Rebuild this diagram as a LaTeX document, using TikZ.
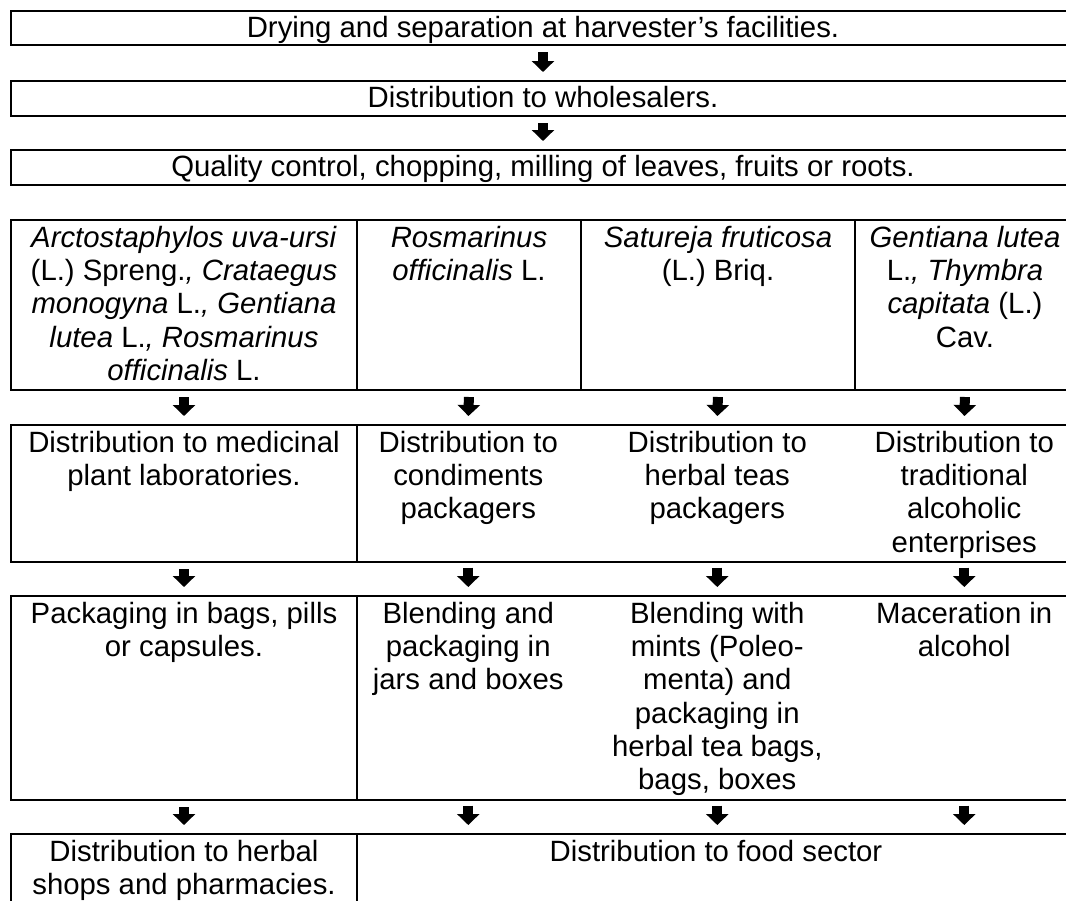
\documentclass[tikz,border=0pt]{standalone}
\usepackage{fontspec}
\setmainfont{Liberation Sans}
\usetikzlibrary{arrows.meta}
% one pixel of the drawing grid
\newcommand\pxu{0.75pt}
% centred lines whose reference point is the first baseline
\newcommand\celllines[1]{\begin{tabular}[t]{@{}c@{}}#1\end{tabular}}
\begin{document}
\begin{tikzpicture}[x=0.75pt,y=-0.75pt,
  boxframe/.style={draw, line width=1.5pt, rectangle, inner sep=0pt, anchor=north west},
  cellslot/.style={rectangle, inner sep=0pt, anchor=north west},
  celltext/.style={anchor=base, inner sep=0pt,
    font=\fontsize{22pt}{25pt}\selectfont},
  downflow/.style={line width=7.5pt, -{Triangle[width=16.5pt,length=8.25pt]},
    shorten <=4.5pt, shorten >=6pt}]
\useasboundingbox (0,0) rectangle (1066,900);
\clip (0,0) rectangle (1066,900);

% full-width processing steps
\node[boxframe, minimum width=1064*\pxu, minimum height=34*\pxu] (tb1) at (10,10) {};
\node[boxframe, minimum width=1064*\pxu, minimum height=35*\pxu] (tb2) at (10,80) {};
\node[boxframe, minimum width=1064*\pxu, minimum height=35*\pxu] (tb3) at (10,149) {};
\node[celltext] (tt1) at ([yshift=-20.25pt]tb1.north) {Drying and separation at harvester’s facilities.};
\node[celltext] (tt2) at ([yshift=-20.25pt]tb2.north) {Distribution to wholesalers.};
\node[celltext] (tt3) at ([yshift=-20.25pt]tb3.north) {Quality control, chopping, milling of leaves, fruits or roots.};
\draw[downflow] (tb1.south) -- (tb2.north);
\draw[downflow] (tb2.south) -- (tb3.north);

% row 1: plant species
\node[boxframe, minimum width=346*\pxu, minimum height=170*\pxu] (c11) at (10,219) {};
\node[boxframe, minimum width=224*\pxu, minimum height=170*\pxu] (c12) at (356,219) {};
\node[boxframe, minimum width=274*\pxu, minimum height=170*\pxu] (c13) at (580,219) {};
\node[boxframe, minimum width=220*\pxu, minimum height=170*\pxu] (c14) at (854,219) {};

% row 2: distribution
\node[boxframe, minimum width=346*\pxu, minimum height=137*\pxu] (c21) at (10,424) {};
\node[boxframe, minimum width=718*\pxu, minimum height=137*\pxu] (r2) at (356,424) {};
\node[cellslot, minimum width=224*\pxu, minimum height=137*\pxu] (c22) at (356,424) {};
\node[cellslot, minimum width=274*\pxu, minimum height=137*\pxu] (c23) at (580,424) {};
\node[cellslot, minimum width=220*\pxu, minimum height=137*\pxu] (c24) at (854,424) {};

% row 3: processing
\node[boxframe, minimum width=346*\pxu, minimum height=204*\pxu] (c31) at (10,595) {};
\node[boxframe, minimum width=718*\pxu, minimum height=204*\pxu] (r3) at (356,595) {};
\node[cellslot, minimum width=224*\pxu, minimum height=204*\pxu] (c32) at (356,595) {};
\node[cellslot, minimum width=274*\pxu, minimum height=204*\pxu] (c33) at (580,595) {};
\node[cellslot, minimum width=220*\pxu, minimum height=204*\pxu] (c34) at (854,595) {};

% row 4: final distribution
\node[boxframe, minimum width=346*\pxu, minimum height=120*\pxu] (c41) at (10,833) {};
\node[boxframe, minimum width=718*\pxu, minimum height=120*\pxu] (r4) at (356,833) {};
\node[cellslot, minimum width=224*\pxu, minimum height=120*\pxu] (c42) at (356,833) {};
\node[cellslot, minimum width=274*\pxu, minimum height=120*\pxu] (c43) at (580,833) {};
\node[cellslot, minimum width=220*\pxu, minimum height=120*\pxu] (c44) at (854,833) {};

% cell texts
\node[celltext] (t11) at ([yshift=-21pt]c11.north) {\celllines{\textit{Arctostaphylos uva-ursi}\\(L.) Spreng.\textit{,} \textit{Crataegus}\\\textit{monogyna} L.\textit{,} \textit{Gentiana}\\\textit{lutea} L.\textit{,} \textit{Rosmarinus}\\\textit{officinalis} L.}};
\node[celltext] (t12) at ([yshift=-21pt]c12.north) {\celllines{\textit{Rosmarinus}\\\textit{officinalis} L.}};
\node[celltext] (t13) at ([yshift=-21pt]c13.north) {\celllines{\textit{Satureja fruticosa}\\(L.) Briq.}};
\node[celltext] (t14) at ([yshift=-21pt]c14.north) {\celllines{\textit{Gentiana lutea}\\L.\textit{,} \textit{Thymbra}\\\textit{capitata} (L.)\\Cav.}};

\node[celltext] (t21) at ([yshift=-21pt]c21.north) {\celllines{Distribution to medicinal\\plant laboratories.}};
\node[celltext] (t22) at ([yshift=-21pt]c22.north) {\celllines{Distribution to\\condiments\\packagers}};
\node[celltext] (t23) at ([yshift=-21pt]c23.north) {\celllines{Distribution to\\herbal teas\\packagers}};
\node[celltext] (t24) at ([yshift=-21pt]c24.north) {\celllines{Distribution to\\traditional\\alcoholic\\enterprises}};

\node[celltext] (t31) at ([yshift=-21pt]c31.north) {\celllines{Packaging in bags, pills\\or capsules.}};
\node[celltext] (t32) at ([yshift=-21pt]c32.north) {\celllines{Blending and\\packaging in\\jars and boxes}};
\node[celltext] (t33) at ([yshift=-21pt]c33.north) {\celllines{Blending with\\mints (Poleo-\\menta) and\\packaging in\\herbal tea bags,\\bags, boxes}};
\node[celltext] (t34) at ([yshift=-21pt]c34.north) {\celllines{Maceration in\\alcohol}};

\node[celltext] (t41) at ([yshift=-21pt]c41.north) {\celllines{Distribution to herbal\\shops and pharmacies.}};
\node[celltext] (t4x) at ([yshift=-21pt]r4.north) {Distribution to food sector};

% flow arrows between the rows
\foreach \col in {1,2,3,4} {
  \draw[downflow] (c1\col.south) -- (c2\col.north);
  \draw[downflow] (c2\col.south) -- (c3\col.north);
  \draw[downflow] (c3\col.south) -- (c4\col.north);
}
\end{tikzpicture}
\end{document}
